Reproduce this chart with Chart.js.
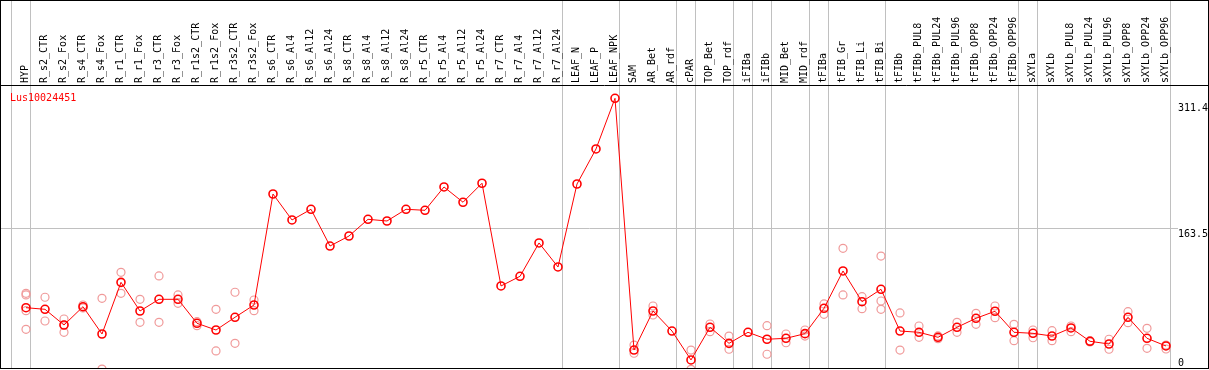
<!DOCTYPE html>
<html>
<head>
<meta charset="utf-8">
<title>Lus10024451</title>
<script src="https://cdn.jsdelivr.net/npm/chart.js@4.4.0/dist/chart.umd.min.js"></script>
<style>
  body { margin: 0; background: #fff; }
  #chart { display: block; }
</style>
</head>
<body>
<canvas id="chart" width="1209" height="370"></canvas>
<script>
var geneName = 'Lus10024451';

var categories = [
    'HYP', 'R_s2_CTR', 'R_s2_Fox', 'R_s4_CTR', 'R_s4_Fox', 'R_r1_CTR', 'R_r1_Fox', 'R_r3_CTR', 'R_r3_Fox', 'R_r1s2_CTR',
    'R_r1s2_Fox', 'R_r3s2_CTR', 'R_r3s2_Fox', 'R_s6_CTR', 'R_s6_Al4', 'R_s6_Al12', 'R_s6_Al24', 'R_s8_CTR', 'R_s8_Al4', 'R_s8_Al12',
    'R_s8_Al24', 'R_r5_CTR', 'R_r5_Al4', 'R_r5_Al12', 'R_r5_Al24', 'R_r7_CTR', 'R_r7_Al4', 'R_r7_Al12', 'R_r7_Al24', 'LEAF_N',
    'LEAF_P', 'LEAF_NPK', 'SAM', 'AR_Bet', 'AR_rdf', 'cPAR', 'TOP_Bet', 'TOP_rdf', 'iFIBa', 'iFIBb',
    'MID_Bet', 'MID_rdf', 'tFIBa', 'tFIB_Gr', 'tFIB_Li', 'tFIB_Bi', 'tFIBb', 'tFIBb_PUL8', 'tFIBb_PUL24', 'tFIBb_PUL96',
    'tFIBb_OPP8', 'tFIBb_OPP24', 'tFIBb_OPP96', 'sXYLa', 'sXYLb', 'sXYLb_PUL8', 'sXYLb_PUL24', 'sXYLb_PUL96', 'sXYLb_OPP8', 'sXYLb_OPP24',
    'sXYLb_OPP96'
];

// mean expression per sample (red line)
var meanValues = [
    69.9, 68.0, 49.5, 71.1, 38.9, 99.8, 66.0, 79.8, 79.8, 51.5,
    43.6, 58.6, 73.1, 203.9, 173.3, 185.9, 142.6, 154.4, 174.1, 172.1,
    185.9, 184.7, 212.2, 194.2, 216.6, 95.5, 106.9, 146.2, 117.9, 215.7,
    257.0, 316.7, 20.0, 66.0, 42.4, 8.3, 46.8, 27.9, 40.9, 32.7,
    33.8, 39.3, 69.2, 113.2, 77.0, 91.6, 42.4, 40.9, 35.0, 46.8,
    57.4, 65.7, 40.9, 39.7, 36.5, 46.0, 30.3, 27.1, 58.6, 33.8,
    24.8
];

// single replicates (pale circles), one list per sample
var replicateValues = [
    [86.9, 84.9, 66.4, 44.4], [82.2, 54.2], [56.6, 49.5, 40.9], [73.1, 69.6], [81.0, -2.4],
    [111.6, 86.9], [79.8, 52.7], [107.3, 52.7], [84.9, 75.1], [53.4, 48.7],
    [68.0, 18.9], [88.1, 27.9], [79.0, 66.4], [], [],
    [], [], [], [], [],
    [], [], [], [], [],
    [], [], [], [], [],
    [], [], [25.9, 16.2], [71.9, 61.3], [],
    [20.0, -2.7], [50.7, 41.6], [36.5, 20.9], [], [48.7, 15.0],
    [38.9, 28.6], [43.6, 36.5], [74.3, 62.1], [139.9, 84.9], [82.9, 68.7],
    [130.8, 77.8, 68.0], [63.7, 20.0], [48.3, 35.0], [36.6, 33.4], [52.7, 40.9],
    [63.3, 50.3], [71.9, 58.1], [50.3, 31.0], [43.6, 34.5], [42.8, 31.0],
    [48.3, 41.6], [31.0, 29.5], [32.7, 20.9], [65.2, 52.2], [45.6, 22.0],
    [25.9, 21.2]
];

// grey group separators sit just right of these sample indexes
var separatorAfter = [-1, 0, 28, 31, 34, 35, 37, 38, 39, 41, 42, 45, 52, 53, 60];

var yTicks = [0, 163.5, 311.4];

var meanPoints = meanValues.map(function (v, i) {
    return { x: i, y: v };
});

var repPoints = [];
for (var i = 0; i < replicateValues.length; i++) {
    for (var j = 0; j < replicateValues[i].length; j++) {
        repPoints.push({ x: i, y: replicateValues[i][j] });
    }
}

var monoFont = { family: "'DejaVu Sans Mono', monospace", size: 10 };

var framePlugin = {
    id: 'frame',
    beforeDraw: function (chart) {
        var ctx = chart.ctx;
        var xs = chart.scales.x;
        ctx.save();
        ctx.strokeStyle = '#c0c0c0';
        ctx.lineWidth = 1;
        separatorAfter.forEach(function (k) {
            var px = Math.round(xs.getPixelForValue(k)) + 4.5;
            ctx.beginPath();
            ctx.moveTo(px, 0);
            ctx.lineTo(px, 368);
            ctx.stroke();
        });
        ctx.restore();
    },
    afterDraw: function (chart) {
        var ctx = chart.ctx;
        var ys = chart.scales.y;
        ctx.save();
        ctx.strokeStyle = '#000';
        ctx.lineWidth = 1;
        ctx.strokeRect(0.5, 0.5, 1208, 368);
        ctx.beginPath();
        ctx.moveTo(0, 85.5);
        ctx.lineTo(1209, 85.5);
        ctx.stroke();

        ctx.font = "10px 'DejaVu Sans Mono', monospace";
        // value labels on the right: hang below their level, except 0 which sits on it
        ctx.fillStyle = '#000';
        yTicks.forEach(function (v) {
            var py = ys.getPixelForValue(v);
            ctx.textBaseline = v === 0 ? 'alphabetic' : 'top';
            ctx.fillText(String(v), ys.left, v === 0 ? py - 1 : py + 1);
        });

        // gene id in the corner of the plot
        ctx.fillStyle = '#ff0000';
        ctx.textBaseline = 'alphabetic';
        ctx.fillText(geneName, 10, 101);
        ctx.restore();
    }
};

var ctx = document.getElementById('chart').getContext('2d');
var chart = new Chart(ctx, {
    type: 'line',
    data: {
        datasets: [{
            label: geneName,
            data: meanPoints,
            borderColor: '#ff0000',
            borderWidth: 1,
            pointRadius: 4,
            pointBorderWidth: 1.6,
            pointBorderColor: '#ff0000',
            pointBackgroundColor: 'rgba(0,0,0,0)',
            tension: 0,
            clip: false
        }, {
            type: 'scatter',
            label: 'replicates',
            data: repPoints,
            showLine: false,
            pointRadius: 4,
            pointBorderWidth: 1.2,
            pointBorderColor: '#f09a9a',
            pointBackgroundColor: 'rgba(0,0,0,0)',
            clip: { left: false, right: false, top: false, bottom: 1 }
        }]
    },
    options: {
        responsive: false,
        animation: false,
        events: [],
        layout: { autoPadding: false, padding: { left: 1, top: 0, right: 0, bottom: 3 } },
        plugins: {
            legend: { display: false },
            tooltip: { enabled: false }
        },
        scales: {
            x: {
                type: 'linear',
                position: 'top',
                min: -25 / 19,
                max: 60 + 12 / 19,
                grid: { display: false, drawTicks: false },
                border: { display: false },
                afterBuildTicks: function (axis) {
                    axis.ticks = categories.map(function (c, k) { return { value: k }; });
                },
                afterFit: function (axis) {
                    axis.height = 85;
                    axis.paddingLeft = 0;
                    axis.paddingRight = 0;
                },
                ticks: {
                    autoSkip: false,
                    minRotation: 90,
                    maxRotation: 90,
                    padding: 2,
                    labelOffset: 11,
                    color: '#000',
                    font: monoFont,
                    callback: function (value) {
                        return categories[value];
                    }
                }
            },
            y: {
                position: 'right',
                min: 0,
                max: 332.4,
                border: { display: false },
                grid: {
                    drawTicks: false,
                    color: function (c) {
                        return c.tick && c.tick.value === 163.5 ? '#c0c0c0' : 'rgba(0,0,0,0)';
                    }
                },
                afterBuildTicks: function (axis) {
                    axis.ticks = yTicks.map(function (v) { return { value: v }; });
                },
                afterFit: function (axis) {
                    axis.width = 31;
                },
                ticks: {
                    display: false
                }
            }
        }
    },
    plugins: [framePlugin]
});
</script>
</body>
</html>
